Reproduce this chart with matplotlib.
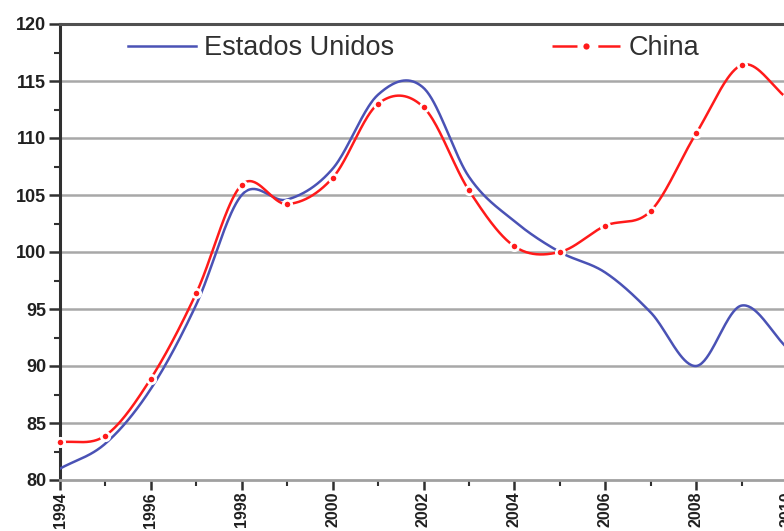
import numpy as np
import matplotlib
matplotlib.use("Agg")
import matplotlib.pyplot as plt
from matplotlib.lines import Line2D
from matplotlib.ticker import MultipleLocator

# data
years = list(range(1994, 2011))
us = [81.0, 83.2, 88.0, 95.4, 105.0, 104.6, 107.3, 113.8, 114.4, 106.6,
      102.7, 100.0, 98.2, 94.7, 90.0, 95.3, 91.6]
china = [83.3, 83.9, 88.9, 96.4, 105.9, 104.2, 106.5, 113.0, 112.7, 105.4,
         100.5, 100.0, 102.3, 103.6, 110.4, 116.4, 113.5]
labels = ["Estados Unidos", "China"]

BLUE = "#4a52b5"
RED = "#ff1a1a"

plt.rcParams["font.family"] = ["Liberation Sans", "DejaVu Sans"]
plt.rcParams["lines.scale_dashes"] = False


def smooth(x, y, n=40):
    # catmull-rom style smoothing, like the spreadsheet "smoothed line"
    x = np.asarray(x, float)
    y = np.asarray(y, float)
    px = np.concatenate([[2 * x[0] - x[1]], x, [2 * x[-1] - x[-2]]])
    py = np.concatenate([[2 * y[0] - y[1]], y, [2 * y[-1] - y[-2]]])
    xs, ys = [], []
    t = np.linspace(0, 1, n)
    for i in range(1, len(px) - 2):
        for p, out in ((px, xs), (py, ys)):
            p0, p1, p2, p3 = p[i - 1], p[i], p[i + 1], p[i + 2]
            out.append(0.5 * ((2 * p1) + (-p0 + p2) * t
                              + (2 * p0 - 5 * p1 + 4 * p2 - p3) * t ** 2
                              + (-p0 + 3 * p1 - 3 * p2 + p3) * t ** 3))
    return np.concatenate(xs), np.concatenate(ys)


fig = plt.figure(figsize=(7.84, 5.31), dpi=100)
ax = fig.add_axes([60 / 784, 51 / 531, 727 / 784, 456 / 531])

ax.set_xlim(1994, 2010)
ax.set_ylim(80, 120)

for v in range(85, 120, 5):
    ax.axhline(v, color="#a8a8a8", lw=1.8, zorder=1)

sx, sy = smooth(years, us)
ax.plot(sx, sy, color=BLUE, lw=1.8, zorder=3)

cx, cy = smooth(years, china)
ax.plot(cx, cy, color=RED, lw=1.8, zorder=4)
ax.plot(years, china, ls="none", marker="o", ms=6, mfc=RED, mec="white",
        mew=2.0, zorder=5, clip_on=False)

# axes styling
ax.spines["right"].set_visible(False)
ax.spines["top"].set_color("#505050")
ax.spines["top"].set_linewidth(2.2)
ax.spines["left"].set_color("#303030")
ax.spines["left"].set_linewidth(2.2)
ax.spines["bottom"].set_color("#a0a0a0")
ax.spines["bottom"].set_linewidth(2.0)

ax.xaxis.set_major_locator(MultipleLocator(2))
ax.xaxis.set_minor_locator(MultipleLocator(1))
ax.yaxis.set_major_locator(MultipleLocator(5))
ax.yaxis.set_minor_locator(MultipleLocator(2.5))
ax.tick_params(axis="y", which="major", direction="out", length=8,
               width=1.8, color="#303030", labelsize=13, pad=2)
ax.tick_params(axis="x", which="major", direction="out", length=7,
               width=1.8, color="#303030", labelsize=11.5, pad=1.5)
ax.tick_params(axis="both", which="minor", direction="out", length=4,
               width=1.5, color="#303030")
ax.set_xticks(range(1994, 2011, 2))
ax.set_xticklabels([str(y) for y in range(1994, 2011, 2)], rotation=90,
                   fontweight="bold", color="#202020")
ax.set_yticks(range(80, 121, 5))
ax.set_yticklabels([str(v) for v in range(80, 121, 5)], fontweight="bold",
                   color="#202020")

# legend
h_us = Line2D([], [], color=BLUE, lw=1.8)
h_cn = Line2D([], [], color=RED, lw=1.8, dashes=[18, 15], marker="o", ms=6,
              mfc=RED, mec="white", mew=1.5)
ax.legend([h_us, h_cn], labels, loc="center left",
          bbox_to_anchor=(68 / 727, 432 / 456), ncol=2, frameon=False,
          fontsize=19.5, handlelength=2.5, handletextpad=0.3,
          columnspacing=5.85, borderpad=0, borderaxespad=0,
          labelcolor="#303030")

fig.savefig("out.png", dpi=100)
